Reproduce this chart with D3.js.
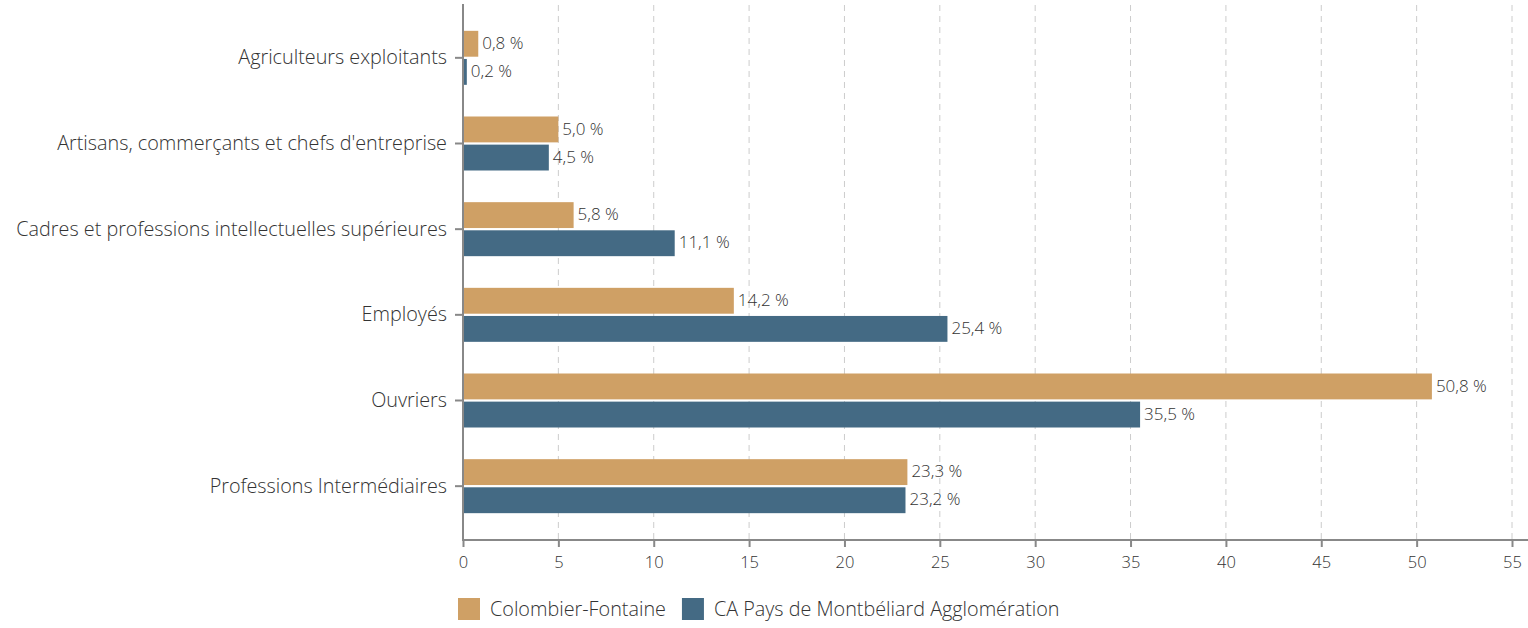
<!DOCTYPE html>
<html><head><meta charset="utf-8">
<script src="https://cdn.jsdelivr.net/npm/d3@7"></script>
<style>
body{margin:0;background:#fff;}
text{font-family:"Open Sans",sans-serif;font-weight:300;fill:#333;}
</style></head>
<body><svg id="c" width="1528" height="628"></svg>
<script>
const categories = ["Agriculteurs exploitants","Artisans, commerçants et chefs d'entreprise","Cadres et professions intellectuelles supérieures","Employés","Ouvriers","Professions Intermédiaires"];
const seriesNames = ["Colombier-Fontaine","CA Pays de Montbéliard Agglomération"];
const colombier = [0.8,5.0,5.8,14.2,50.8,23.3];
const montbeliard = [0.2,4.5,11.1,25.4,35.5,23.2];
const xTicks = [0,5,10,15,20,25,30,35,40,45,50,55];
const colors = ["#CFA065","#446A84"];

const svg = d3.select("#c");
const x0 = 463, axisY = 540;
const x = d3.scaleLinear().domain([0,55]).range([x0,1512]);
const y = d3.scaleBand().domain(categories).range([15,529]);
const inner = d3.scaleBand().domain([0,1]).range([-27,27]).paddingInner(0.08);

// grid
svg.append("g").selectAll("line").data(xTicks.filter(d=>d>0)).join("line")
  .attr("x1",d=>x(d)).attr("x2",d=>x(d)).attr("y1",5).attr("y2",axisY)
  .attr("stroke","#ccc").attr("stroke-width",1).attr("stroke-dasharray","6,5");

const series = [colombier, montbeliard];
series.forEach((vals,si)=>{
  const g = svg.append("g");
  g.selectAll("rect").data(categories).join("rect")
    .attr("x",x(0)).attr("y",(c)=>y(c)+y.bandwidth()/2+inner(si))
    .attr("width",(c,i)=>x(vals[i])-x(0)).attr("height",inner.bandwidth())
    .attr("fill",colors[si]);
  g.selectAll("text").data(categories).join("text")
    .attr("x",(c,i)=>x(vals[i])+4).attr("y",(c)=>y(c)+y.bandwidth()/2+inner(si)+inner.bandwidth()/2)
    .attr("dy","0.3em").attr("font-size",17)
    .text((c,i)=>vals[i].toFixed(1).replace(".",",")+" %");
});

// x axis
const xa = svg.append("g").attr("transform",`translate(0,${axisY})`)
  .call(d3.axisBottom(x).tickValues(xTicks).tickSize(7).tickPadding(9).tickFormat(d=>d));
xa.select(".domain").remove();
xa.selectAll(".tick line").attr("stroke","#888").attr("stroke-width",2);
xa.selectAll(".tick text").attr("font-size",16.5).attr("fill","#333").attr("font-family","'Open Sans',sans-serif");
svg.append("line").attr("x1",x0-1).attr("x2",1528).attr("y1",axisY).attr("y2",axisY).attr("stroke","#888").attr("stroke-width",2);

// y axis
const ya = svg.append("g").attr("transform",`translate(${x0},0)`)
  .call(d3.axisLeft(y).tickSize(8).tickPadding(8));
ya.select(".domain").remove();
ya.selectAll(".tick line").attr("stroke","#888").attr("stroke-width",2);
ya.selectAll(".tick text").attr("font-size",19.8).attr("fill","#333").attr("font-family","'Open Sans',sans-serif");
svg.append("line").attr("x1",x0).attr("x2",x0).attr("y1",4).attr("y2",axisY+1).attr("stroke","#888").attr("stroke-width",2);

// legend
const leg = svg.append("g").attr("transform","translate(458,598)");
let lx = 0;
seriesNames.forEach((n,i)=>{
  const g = leg.append("g").attr("transform",`translate(${lx},0)`);
  g.append("rect").attr("width",22).attr("height",22).attr("fill",colors[i]);
  const t = g.append("text").attr("x",32).attr("y",11).attr("dy","0.35em").attr("font-size",19.8).text(n);
  lx += 32 + t.node().getComputedTextLength() + 16;
});
</script></body></html>
